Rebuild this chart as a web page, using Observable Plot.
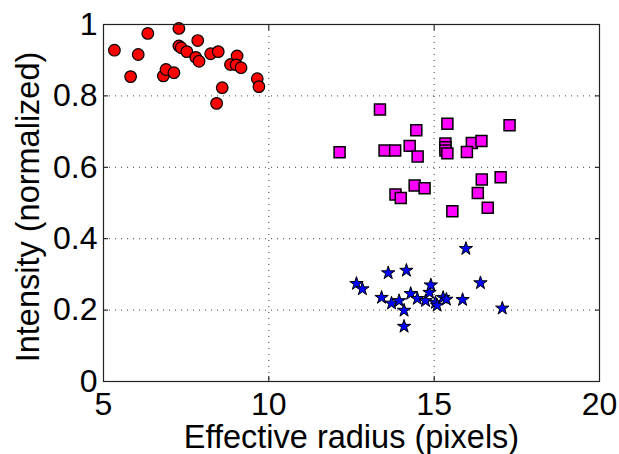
<!DOCTYPE html>
<html>
<head>
<meta charset="utf-8">
<script src="https://cdn.jsdelivr.net/npm/d3@7"></script>
<script src="https://cdn.jsdelivr.net/npm/@observablehq/plot@0.6"></script>
<style>
  html, body { margin: 0; padding: 0; background: #fff; }
  svg { font-family: "Liberation Sans", Arial, sans-serif; }
</style>
</head>
<body>
<div id="chart"></div>
<script>
// Red circles
const circleX = [5.33, 5.82, 6.05, 6.34, 6.81, 6.89, 7.13, 7.28, 7.28, 7.35, 7.52, 7.85, 7.79, 7.89, 8.24, 8.47, 8.42, 8.59, 8.84, 9.04, 9.01, 9.16, 9.65, 9.70];
const circleY = [0.928, 0.854, 0.916, 0.975, 0.856, 0.874, 0.865, 0.989, 0.940, 0.935, 0.924, 0.955, 0.908, 0.897, 0.918, 0.924, 0.779, 0.823, 0.888, 0.912, 0.887, 0.879, 0.848, 0.826];
// Magenta squares
const squareX = [13.36, 14.46, 15.40, 17.28, 12.14, 13.50, 13.82, 14.26, 14.50, 15.34, 15.34, 15.34, 15.40, 16.14, 16.43, 15.99, 17.01, 16.44, 16.32, 16.62, 14.41, 14.71, 13.83, 13.99, 15.55];
const squareY = [0.762, 0.704, 0.722, 0.718, 0.642, 0.647, 0.647, 0.660, 0.630, 0.667, 0.656, 0.647, 0.639, 0.668, 0.674, 0.643, 0.572, 0.566, 0.528, 0.487, 0.549, 0.541, 0.524, 0.514, 0.477];
// Blue stars
const starX = [15.96, 13.61, 14.16, 12.65, 12.83, 16.40, 13.41, 13.71, 13.94, 14.09, 14.09, 14.29, 14.49, 14.74, 14.86, 14.90, 15.04, 15.09, 15.27, 15.37, 15.86, 17.06];
const starY = [0.372, 0.304, 0.311, 0.274, 0.259, 0.276, 0.235, 0.219, 0.226, 0.199, 0.154, 0.246, 0.232, 0.226, 0.249, 0.270, 0.221, 0.213, 0.235, 0.230, 0.229, 0.205];

const xTicks = [5, 10, 15, 20];
const yTicks = [0, 0.2, 0.4, 0.6, 0.8, 1];
const xGrid = [10, 15];
const yGrid = [0.2, 0.4, 0.6, 0.8];
const xLabel = "Effective radius (pixels)";
const yLabel = "Intensity (normalized)";

const circles = circleX.map((x, i) => ({x, y: circleY[i]}));
const squares = squareX.map((x, i) => ({x, y: squareY[i]}));
const stars = starX.map((x, i) => ({x, y: starY[i]}));

const grid = {stroke: "black", strokeOpacity: 0.75, strokeDasharray: "1,5", strokeWidth: 1};
const empty = () => "";

const chart = Plot.plot({
  width: 619,
  height: 454,
  marginLeft: 103,
  marginRight: 20,
  marginTop: 24,
  marginBottom: 73,
  style: {fontFamily: "'Liberation Sans', Arial, sans-serif", background: "white"},
  x: {domain: [5, 20]},
  y: {domain: [0, 1]},
  marks: [
    Plot.ruleX(xGrid, grid),
    Plot.ruleY(yGrid, grid),
    Plot.axisX(xTicks, {anchor: "bottom", tickSize: 0, tickPadding: 11, fontSize: 32, label: null, tickFormat: d => d, color: "black"}),
    Plot.axisY(yTicks, {anchor: "left", tickSize: 0, tickPadding: 6, fontSize: 32, label: null, tickFormat: d => d, color: "black"}),
    Plot.axisX(xTicks, {anchor: "bottom", tickSize: -5, tickFormat: empty, label: null}),
    Plot.axisX(xTicks, {anchor: "top", tickSize: -5, tickFormat: empty, label: null}),
    Plot.axisY(yTicks, {anchor: "left", tickSize: -5, tickFormat: empty, label: null}),
    Plot.axisY(yTicks, {anchor: "right", tickSize: -5, tickFormat: empty, label: null}),
    Plot.dot(circles, {x: "x", y: "y", r: 5.8, fill: "#ff0000", stroke: "black", strokeWidth: 1.2}),
    Plot.dot(squares, {x: "x", y: "y", r: 6.2, symbol: "square", fill: "#ff00ff", stroke: "black", strokeWidth: 1.5}),
    Plot.dot(stars, {x: "x", y: "y", r: 4.2, symbol: "star", fill: "#0000ff", stroke: "black", strokeWidth: 1}),
    Plot.frame({stroke: "#222", strokeWidth: 1.2}),
    Plot.text([xLabel], {frameAnchor: "bottom", dy: 56, fontSize: 32.5, fill: "black", lineAnchor: "middle", textAnchor: "middle"}),
    Plot.text([yLabel], {frameAnchor: "left", dx: -75, dy: 4, rotate: -90, fontSize: 32.5, fill: "black", lineAnchor: "middle", textAnchor: "middle"})
  ]
});
document.getElementById("chart").appendChild(chart);
</script>
</body>
</html>
